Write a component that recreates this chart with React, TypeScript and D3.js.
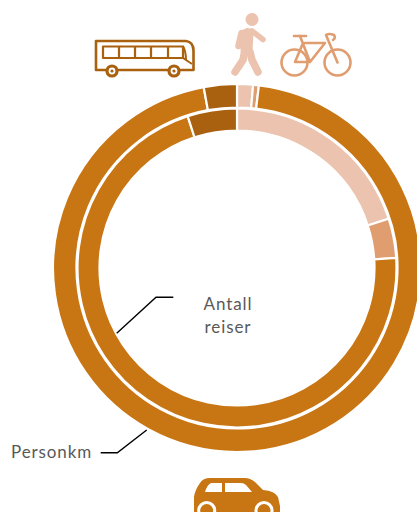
import React from "react";
import { arc, pie } from "d3";

const modes = ["Gange", "Sykkel", "Bil", "Kollektiv"];
const antallReiser = [20, 4, 71, 5];
const personkm = [1.4, 0.5, 95.2, 2.9];
const colors = ["#EBC3AE", "#E09D6F", "#C87513", "#A9600F"];

const cx = 237;
const cy = 268;

function Ring({ values, inner, outer }: { values: number[]; inner: number; outer: number }) {
  // same order round the circle for both rings, no sorting by value
  const slices = pie<number>().sort(null)(values);
  const path = arc<any>().innerRadius(inner).outerRadius(outer);
  return (
    <g transform={`translate(${cx},${cy})`}>
      {slices.map((s, i) => (
        <path key={modes[i]} d={path(s) || ""} fill={colors[i]} stroke="#fff" strokeWidth={2.2} />
      ))}
    </g>
  );
}

function BusIcon() {
  const c = colors[3];
  return (
    <g fill="none" stroke={c} strokeWidth={2.6} strokeLinejoin="round">
      <path d="M96,41 H186 Q193.500,42 193.500,51 V70 H96 Z" />
      <path d="M103,46.500 H183 V58 H103 Z" strokeWidth={2.2} />
      <path d="M183,46 Q186,52 186,60 L192,64 M103,58 H183 L186,60" strokeWidth={2} />
      <path d="M119,46 V58 M135,46 V58 M151,46 V58 M168,46 V58" strokeWidth={2.2} />
      {[112, 174].map((x) => (
        <g key={x}>
          <circle cx={x} cy={71} r={5} fill="#fff" strokeWidth={3.2} />
          <circle cx={x} cy={71} r={1.6} fill={c} stroke="none" />
        </g>
      ))}
    </g>
  );
}

function WalkIcon() {
  const c = colors[0];
  return (
    <g fill="none" stroke={c} strokeLinecap="round" strokeLinejoin="round">
      <circle cx={252} cy={19.500} r={6.500} fill={c} stroke="none" />
      <path d="M247.500,34 L246.500,50" strokeWidth={12} />
      <path d="M252,31 L263,39.500" strokeWidth={5.500} />
      <path d="M241.500,33 L238.500,46" strokeWidth={6.500} />
      <path d="M244.500,52 L243,60 L235,72" strokeWidth={7.500} />
      <path d="M250,52 L252,60 L258,72" strokeWidth={7.500} />
    </g>
  );
}

function BikeIcon() {
  const c = colors[1];
  return (
    <g fill="none" stroke={c} strokeWidth={2.6} strokeLinecap="round" strokeLinejoin="round">
      <circle cx={294.500} cy={62.500} r={13} />
      <circle cx={337.500} cy={62.500} r={13} />
      <path d="M294,36 H306" />
      <path d="M300,36 L310,62 H295 L303,43 H325 L310,62" />
      <path d="M337.500,62.500 L326,35 Q329,33 334,35 Q336,38 333,40" />
    </g>
  );
}

function CarIcon() {
  const c = colors[2];
  return (
    <g>
      <path
        d="M194,512 L194,497 Q195,490 200,483 Q203,478 210,478 L245,478 Q250,478 255,482 L263,490 Q275,491 278,497 L280,506 L280,512 Z"
        fill={c}
      />
      <path d="M205,492 Q207,485 211,483 H222 V492 Z M225,483 H241 Q244,483 246,485 L252,492 H225 Z" fill="#fff" />
      {[206.700, 264].map((x) => (
        <g key={x}>
          <circle cx={x} cy={510.500} r={9.500} fill="#fff" />
          <circle cx={x} cy={510.500} r={6.500} fill={c} />
        </g>
      ))}
    </g>
  );
}

export default function App() {
  const font = "Lato, 'Open Sans', sans-serif";
  return (
    <svg
      width={417}
      height={512}
      style={{ position: "absolute", left: 0, top: 0, display: "block" }}
    >
      <Ring values={personkm} inner={160.500} outer={184} />
      <Ring values={antallReiser} inner={137.500} outer={159.500} />

      <BusIcon />
      <WalkIcon />
      <BikeIcon />
      <CarIcon />

      <path d="M116.700,333.300 L156,297.300 H173.300" fill="none" stroke="#000" strokeWidth={1.4} />
      <path d="M146.700,430 L117.300,452.700 H100.700" fill="none" stroke="#000" strokeWidth={1.4} />

      <g fill="#595959" fontFamily={font} fontSize={17} letterSpacing={0.9}>
        <text x={228} y={310} textAnchor="middle">Antall</text>
        <text x={228} y={333} textAnchor="middle">reiser</text>
        <text x={11} y={458}>Personkm</text>
      </g>
    </svg>
  );
}
